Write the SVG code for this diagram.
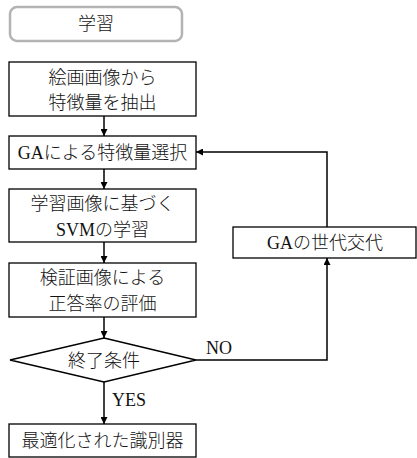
<svg xmlns="http://www.w3.org/2000/svg" width="417" height="458" viewBox="0 0 417 458">
<style>
.b{fill:#fff;stroke:#000;stroke-width:1.3}
.t{font-family:"Liberation Serif","Noto Sans CJK JP",serif;font-size:18px;fill:#111;text-anchor:middle;font-weight:300}
.l{fill:none;stroke:#000;stroke-width:1.5}
</style>
<defs>
<marker id="a" viewBox="0 0 10 10" refX="10" refY="5" markerWidth="7" markerHeight="7" markerUnits="userSpaceOnUse" orient="auto"><path d="M0,0L10,5L0,10z" fill="#000"/></marker>
</defs>
<g id="title"><rect x="10" y="7" width="172" height="34" rx="7" fill="#fff" stroke="#b3b3b3" stroke-width="2.5"/><text class="t" x="96" y="30">学習</text></g>
<g id="n1"><rect class="b" x="9" y="62" width="187" height="54"/><text class="t" x="102.5" y="84">絵画画像から</text><text class="t" x="102.5" y="109">特徴量を抽出</text></g>
<g id="n2"><rect class="b" x="9" y="136" width="187" height="33"/><text class="t" x="102.5" y="159">GAによる特徴量選択</text></g>
<g id="n3"><rect class="b" x="9" y="189" width="187" height="53"/><text class="t" x="102.5" y="210">学習画像に基づく</text><text class="t" x="102.5" y="236">SVMの学習</text></g>
<g id="n4"><rect class="b" x="9" y="263" width="187" height="54"/><text class="t" x="102.5" y="284">検証画像による</text><text class="t" x="102.5" y="310">正答率の評価</text></g>
<g id="d"><polygon class="b" points="104,338 196,360 104,382 10,360"/><text class="t" x="104" y="366.5">終了条件</text></g>
<g id="n5"><rect class="b" x="9" y="424" width="187" height="33"/><text class="t" x="102.5" y="447">最適化された識別器</text></g>
<g id="ga"><rect class="b" x="233" y="227" width="183" height="31"/><text class="t" x="325" y="249">GAの世代交代</text></g>
<g id="edges">
<line class="l" x1="104" y1="116" x2="104" y2="136" marker-end="url(#a)"/>
<line class="l" x1="104" y1="169" x2="104" y2="189" marker-end="url(#a)"/>
<line class="l" x1="104" y1="242" x2="104" y2="263" marker-end="url(#a)"/>
<line class="l" x1="104" y1="317" x2="104" y2="338" marker-end="url(#a)"/>
<line class="l" x1="104" y1="382" x2="104" y2="424" marker-end="url(#a)"/>
<polyline class="l" points="196,360 327,360 327,258" marker-end="url(#a)"/>
<polyline class="l" points="327,227 327,152 196,152" marker-end="url(#a)"/>
<text class="t" x="219" y="354">NO</text>
<text class="t" x="129" y="406">YES</text>
</g>
</svg>
